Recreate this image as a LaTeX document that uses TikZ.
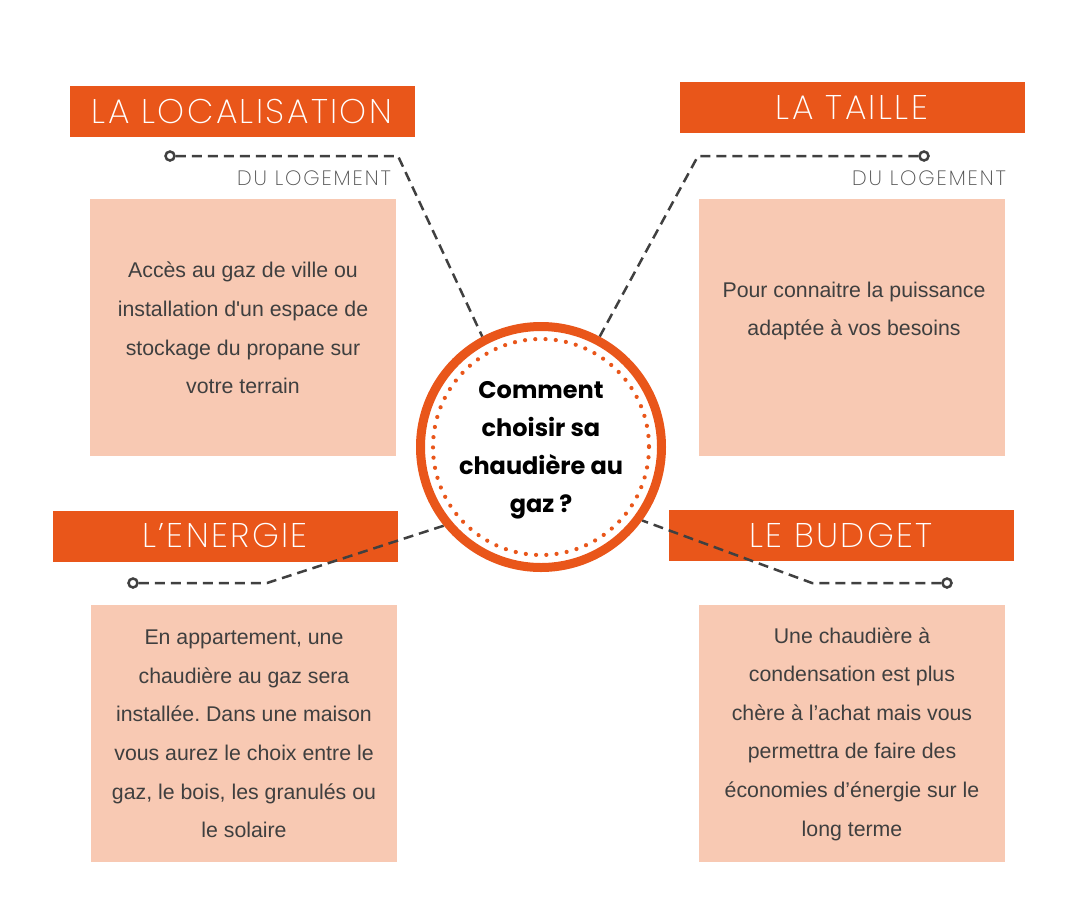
\documentclass[tikz,border=0pt]{standalone}
\usepackage{fontspec}
\setmainfont{Liberation Sans}
\newfontfamily\bodyfont{Liberation Sans}
\newfontfamily\hdrfont{Poppins ExtraLight}[LetterSpace=7]
\newfontfamily\subfont{Poppins ExtraLight}[LetterSpace=9]
\newfontfamily\circfont{Poppins Bold}
\definecolor{orng}{HTML}{E9561A}
\definecolor{peach}{HTML}{F8C9B3}
\definecolor{conn}{HTML}{404040}
\definecolor{bodytxt}{HTML}{3F3F3F}
\definecolor{subtxt}{HTML}{505050}
\tikzset{
  header/.style={fill=orng, draw=none, minimum width=345pt, minimum height=51pt, inner sep=0pt,
    text=white, font=\hdrfont\fontsize{34.2}{34.2}\selectfont},
  infobox/.style={fill=peach, draw=none, minimum width=306pt, minimum height=257pt, inner sep=0pt},
  bodytext/.style={align=center, text=bodytxt, inner sep=0pt, font=\bodyfont\frenchspacing\fontsize{21.3}{38.6}\selectfont},
  subtitle/.style={text=subtxt, inner sep=0pt, font=\subfont\fontsize{20.8}{20.8}\selectfont},
  connector/.style={draw=conn, line width=2.5pt, dash pattern=on 10pt off 6pt},
  enddot/.style={circle, draw=conn, fill=white, line width=2.5pt, minimum size=9pt, inner sep=0pt},
}
\begin{document}
\begin{tikzpicture}[x=1pt, y=-1pt]
\useasboundingbox[fill=white] (0,0) rectangle (1080,900);
% info boxes
\node[infobox] (b1) at (243,327.5) {};
\node[infobox] (b2) at (852,327.5) {};
\node[infobox] (b3) at (244,733.5) {};
\node[infobox] (b4) at (852,733.5) {};
\node[bodytext] (t1) at (243,328) {Accès au gaz de ville ou\\installation d'un espace de\\stockage du propane sur\\votre terrain};
\node[bodytext] (t2) at (854,311) {Pour connaitre la puissance\\adaptée à vos besoins};
\node[bodytext] (t3) at (244,734) {En appartement, une\\chaudière au gaz sera\\installée. Dans une maison\\vous aurez le choix entre le\\gaz, le bois, les granulés ou\\le solaire};
\node[bodytext] (t4) at (852,734) {Une chaudière à\\condensation est plus\\chère à l’achat mais vous\\permettra de faire des\\économies d’énergie sur le\\long terme};
% headers
\node[header] (h1) at (242,111.5) {LA LOCALISATION};
\node[header] (h2) at (852,107.5) {LA TAILLE};
\node[header] (h3) at (225,536) {L’ENERGIE};
\node[header] (h4) at (841,535.5) {LE BUDGET};
% subtitles
\node[subtitle, anchor=east] (s1) at (391,178) {DU LOGEMENT};
\node[subtitle, anchor=east] (s2) at (1006,178) {DU LOGEMENT};
% center circle reference
\coordinate (cc) at (541,447);
\coordinate (k1) at (398,156);
\coordinate (k2) at (698,156);
\coordinate (k3) at (267,583);
\coordinate (k4) at (812,583);
\node[circle, minimum size=250pt, inner sep=0pt, outer sep=0pt] (ring) at (cc) {};
% end dots
\node[enddot] (d1) at (170,156) {};
\node[enddot] (d2) at (924,156) {};
\node[enddot] (d3) at (133,583) {};
\node[enddot] (d4) at (947,583) {};
% connectors
\draw[connector] (d1) -- (k1) -- (ring.118.7);
\draw[connector] (d2) -- (k2) -- (ring.62.2);
\draw[connector] (d3) -- (k3) -- (ring.219.6);
\draw[connector] (d4) -- (k4) -- (ring.-36.6);
% circle
\node[circle, draw=orng, fill=white, line width=9pt, minimum size=241pt, inner sep=0pt] (c) at (cc) {};
\draw[orng, line width=4.2pt, line cap=round, dash pattern=on 0pt off 10.27pt] (cc) circle (108);
\node[align=center, inner sep=0pt, font=\circfont\fontsize{24}{38}\selectfont] (ctext) at (541,450) {Comment\\choisir sa\\chaudière au\\gaz ?};
\end{tikzpicture}
\end{document}
